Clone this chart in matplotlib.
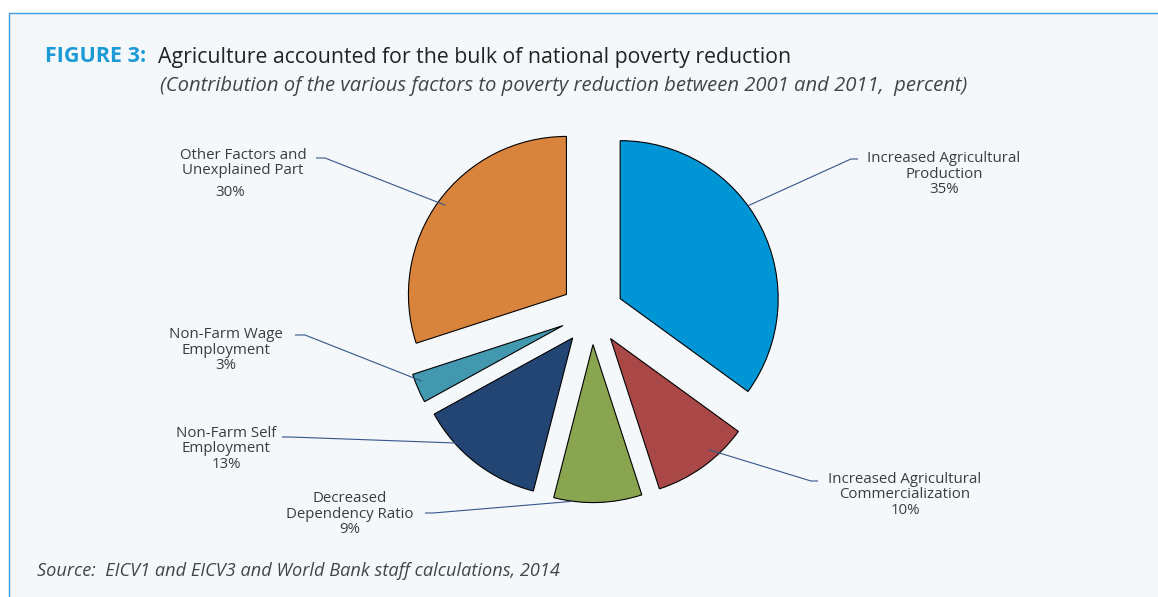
import matplotlib.pyplot as plt
from matplotlib.patches import Rectangle
import numpy as np

# contribution of each factor to poverty reduction, 2001-2011 (percent)
factors = ['Increased Agricultural\nProduction',
           'Increased Agricultural\nCommercialization',
           'Decreased\nDependency Ratio',
           'Non-Farm Self\nEmployment',
           'Non-Farm Wage\nEmployment',
           'Other Factors and\nUnexplained Part']
shares = [35, 10, 9, 13, 3, 30]
colors = ['#0095d4', '#a94846', '#8aa54f', '#234574', '#4298ae', '#d9843c']

W, H = 1158, 597
R = 158


def py(y):
    ''' pixel row (from top) -> axes y '''
    return H - y


fig = plt.figure(figsize=(W / 100, H / 100), dpi=100)
fig.patch.set_facecolor('white')
ax = fig.add_axes([0, 0, 1, 1])

# panel background with the thin blue frame on top and left
ax.add_patch(Rectangle((9, -20), W + 20, py(13) + 20, facecolor='#f5f8fa',
                       edgecolor='#3d9ade', linewidth=1.0, zorder=0))

# explode is in data units here, every slice pushed out by 0.2 R
wedges, _ = ax.pie(shares, colors=colors, startangle=90, counterclock=False,
                   explode=[0.2 * R] * len(shares), radius=R, center=(592, py(313)),
                   wedgeprops=dict(edgecolor='black', linewidth=0.8))
for w in wedges:
    w.set_zorder(2)

ax.set_xlim(0, W)
ax.set_ylim(0, H)
ax.set_aspect('equal')
ax.axis('off')

font = 'Open Sans'
txt_col = '#3c3c3c'
line_col = '#35558c'

# leader lines: anchor angle on the wedge (deg, clockwise from top), radius fraction,
# elbow point and end point near the label
anchor_deg = [54, 138.5, 187.3, 227.8, 248.5, 306.4]
anchor_r = [1.0, 0.94, 1.0, 0.99, 0.96, 0.95]
elbows = [(851, 159), (811, 481), (433, 513), (290, 437), (305, 335), (325, 158)]
ends = [(858, 159), (818, 481), (425, 513), (282, 437), (295, 335), (316, 158)]

for w, deg, rf, el, en in zip(wedges, anchor_deg, anchor_r, elbows, ends):
    cx, cy = w.center
    a = np.radians(90 - deg)
    ax_, ay_ = cx + rf * w.r * np.cos(a), cy + rf * w.r * np.sin(a)
    ax.plot([ax_, el[0], en[0]], [ay_, py(el[1]), py(en[1])],
            color=line_col, linewidth=0.8, zorder=3, solid_capstyle='butt')

# slice labels
fs = 10.8
label_pos = [(944, 174), (905, 495), (350, 514), (226, 449), (226, 350), (243, 163)]
for i, (name, val, (x, y)) in enumerate(zip(factors, shares, label_pos)):
    if i == 5:
        ax.text(x, py(y), name, ha='center', va='center', fontsize=fs,
                family=font, color=txt_col, linespacing=1.05)
        ax.text(230, py(192), '%d%%' % val, ha='center', va='center', fontsize=fs,
                family=font, color=txt_col)
    else:
        ax.text(x, py(y), name + '\n%d%%' % val, ha='center', va='center',
                fontsize=fs, family=font, color=txt_col, linespacing=1.05)

# title block
ax.text(45, py(57), 'FIGURE 3:', ha='left', va='center', fontsize=15.5,
        family=font, color='#1a9ad7', fontweight='bold')
ax.text(158, py(57), 'Agriculture accounted for the bulk of national poverty reduction',
        ha='left', va='center', fontsize=15.3, family=font, color='#222222')
ax.text(160, py(86), '(Contribution of the various factors to poverty reduction between 2001 and 2011,  percent)',
        ha='left', va='center', fontsize=14.6, family=font, color='#444444', style='italic')

ax.text(37, py(571), 'Source:  EICV1 and EICV3 and World Bank staff calculations, 2014',
        ha='left', va='center', fontsize=13.1, family=font, color='#444444', style='italic')

fig.savefig('out.png', dpi=100, facecolor=fig.get_facecolor())
